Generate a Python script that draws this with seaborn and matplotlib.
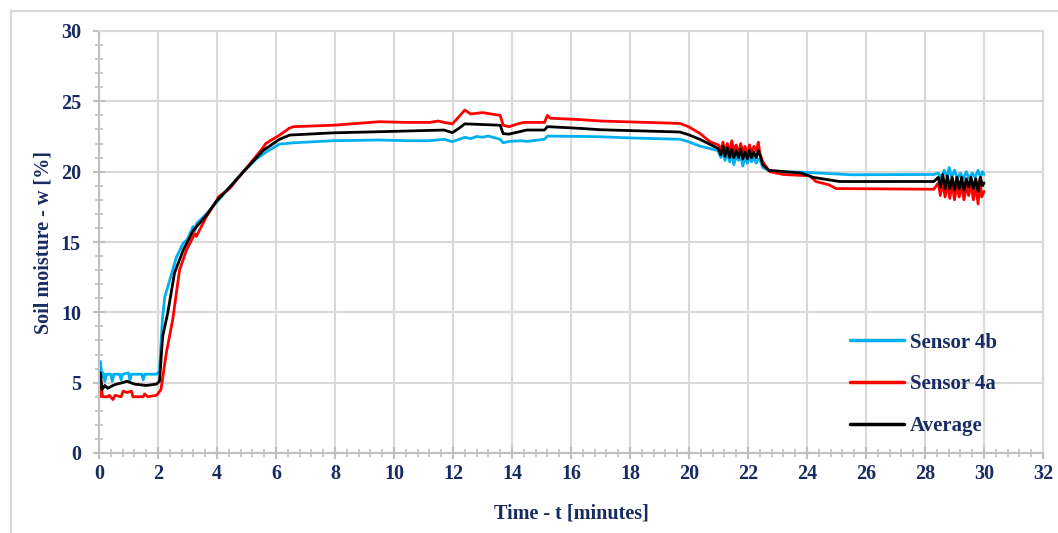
import pandas as pd
import matplotlib.pyplot as plt
import matplotlib.lines as mlines
from matplotlib.ticker import MultipleLocator
import seaborn as sns

# ---- data (time in minutes, moisture in %) ----
t_4b = [0.0, 0.05, 0.1, 0.14, 0.2, 0.25, 0.4, 0.45, 0.5, 0.7, 0.75, 0.8, 1.0, 1.05, 1.1,
        1.45, 1.5, 1.55, 1.95, 2.05, 2.15, 2.23, 2.4, 2.62, 2.85, 3.0, 3.19, 3.25, 3.3,
        3.64, 3.98, 4.43, 4.88, 5.33, 5.67, 6.12, 6.58, 7.93, 9.5, 10.5, 11.2, 11.7, 11.98,
        12.4, 12.6, 12.8, 13.0, 13.2, 13.6, 13.7, 13.9, 14.3, 14.5, 15.1, 15.2, 16.5, 17.0,
        18.0, 19.7, 19.98, 20.37, 20.98,
        21.08, 21.15, 21.22, 21.3, 21.38, 21.45, 21.52, 21.6, 21.68, 21.75, 21.82, 21.9,
        21.98, 22.05, 22.12, 22.2, 22.28, 22.35, 22.42, 22.5, 22.7, 22.9, 23.8, 25.5,
        28.3, 28.45, 28.55, 28.65, 28.75, 28.82, 28.9, 29.0, 29.1, 29.2, 29.3, 29.4, 29.5,
        29.6, 29.7, 29.8, 29.88, 29.95, 30.0]
w_4b = [5.0, 6.5, 5.4, 5.7, 5.1, 5.6, 5.6, 5.1, 5.6, 5.6, 5.2, 5.6, 5.7, 5.2, 5.6,
        5.6, 5.2, 5.6, 5.6, 5.8, 9.5, 11.1, 12.3, 13.9, 14.9, 15.2, 16.1, 15.8, 16.3,
        17.0, 17.8, 18.9, 19.96, 20.9, 21.4, 21.96, 22.05, 22.2, 22.25, 22.2, 22.2, 22.3, 22.13,
        22.44, 22.35, 22.5, 22.45, 22.53, 22.3, 22.05, 22.15, 22.2, 22.15, 22.3, 22.53, 22.5, 22.48,
        22.4, 22.3, 22.13, 21.82, 21.5,
        21.0, 21.5, 20.8, 21.3, 20.7, 21.2, 20.5, 21.1, 20.8, 21.2, 20.4, 21.0,
        20.6, 21.1, 20.7, 21.0, 20.6, 20.9, 20.8, 20.3, 20.1, 20.0, 19.97, 19.78,
        19.8, 19.9, 19.5, 20.1, 19.6, 20.3, 19.6, 20.1, 19.5, 19.9, 19.5, 20.0, 19.5,
        19.9, 19.6, 20.1, 19.6, 20.0, 19.8]

t_4a = [0.0, 0.03, 0.08, 0.12, 0.3, 0.35, 0.47, 0.55, 0.75, 0.82, 0.95, 1.1, 1.15, 1.5,
        1.55, 1.65, 1.95, 2.1, 2.28, 2.5, 2.73, 2.96, 3.25, 3.3, 3.64, 3.98, 4.05, 4.43,
        4.88, 5.56, 5.65, 6.12, 6.46, 6.6, 7.93, 9.5, 10.5, 11.2, 11.5, 11.7, 11.98, 12.2,
        12.4, 12.6, 13.0, 13.6, 13.7, 13.9, 14.2, 14.4, 15.1, 15.2, 15.3, 16.3, 17.0, 19.69,
        19.98, 20.37, 20.71, 21.0,
        21.08, 21.15, 21.22, 21.3, 21.38, 21.45, 21.52, 21.6, 21.68, 21.75, 21.82, 21.9,
        21.98, 22.05, 22.12, 22.2, 22.28, 22.35, 22.4, 22.5, 22.7, 22.74, 23.2, 24.1, 24.3,
        24.75, 24.98, 28.3,
        28.45, 28.52, 28.6, 28.68, 28.76, 28.84, 28.92, 29.0, 29.08, 29.16, 29.24, 29.32,
        29.4, 29.48, 29.56, 29.64, 29.72, 29.8, 29.86, 29.92, 30.0]
w_4a = [4.8, 4.0, 4.7, 4.0, 4.0, 4.1, 3.8, 4.1, 4.0, 4.4, 4.3, 4.4, 4.0, 4.0,
        4.2, 4.0, 4.1, 4.5, 7.1, 9.5, 13.0, 14.4, 15.6, 15.4, 16.8, 17.9, 18.2, 18.8,
        19.96, 21.7, 22.0, 22.6, 23.1, 23.2, 23.3, 23.55, 23.5, 23.5, 23.6, 23.5, 23.4, 23.9,
        24.38, 24.1, 24.2, 24.0, 23.3, 23.2, 23.4, 23.5, 23.5, 24.0, 23.8, 23.7, 23.6, 23.43,
        23.2, 22.72, 22.13, 21.9,
        21.5, 22.1, 21.4, 22.0, 21.3, 22.2, 21.5, 21.9, 21.2, 22.0, 21.4, 21.8,
        21.2, 21.9, 21.3, 21.8, 21.5, 22.1, 21.3, 20.7, 20.1, 20.0, 19.8, 19.7, 19.3,
        19.06, 18.8, 18.75,
        19.2, 18.3, 19.3, 18.2, 19.1, 18.1, 19.2, 18.0, 19.0, 18.2, 19.1, 18.0,
        19.0, 18.3, 19.1, 18.0, 19.0, 17.7, 19.5, 18.2, 18.6]

t_avg = [0.0, 0.05, 0.1, 0.2, 0.3, 0.47, 0.6, 0.8, 0.95, 1.2, 1.6, 1.95, 2.05, 2.16, 2.33,
         2.56, 2.85, 3.19, 3.64, 3.98, 4.43, 4.88, 5.56, 6.12, 6.46, 7.93, 9.5, 11.7, 11.98,
         12.2, 12.4, 13.6, 13.7, 13.9, 14.5, 15.1, 15.2, 16.3, 17.0, 19.69, 19.98, 20.37, 20.98,
         21.08, 21.15, 21.22, 21.3, 21.38, 21.45, 21.52, 21.6, 21.68, 21.75, 21.82, 21.9,
         21.98, 22.05, 22.12, 22.2, 22.28, 22.35, 22.42, 22.5, 22.7, 23.8, 24.2, 25.1, 28.3,
         28.45, 28.52, 28.6, 28.68, 28.76, 28.84, 28.92, 29.0, 29.08, 29.16, 29.24, 29.32,
         29.4, 29.48, 29.56, 29.64, 29.72, 29.8, 29.88, 29.95, 30.0]
w_avg = [5.1, 5.7, 4.5, 4.8, 4.6, 4.8, 4.9, 5.0, 5.1, 4.9, 4.8, 4.9, 5.1, 8.3, 9.95,
         12.8, 14.4, 15.8, 16.9, 17.9, 18.9, 19.96, 21.5, 22.3, 22.6, 22.76, 22.84, 22.96, 22.77,
         23.08, 23.4, 23.3, 22.7, 22.67, 22.96, 22.96, 23.2, 23.08, 22.98, 22.82, 22.63, 22.3, 21.66,
         21.2, 21.8, 21.1, 21.7, 21.0, 21.6, 21.0, 21.5, 21.0, 21.6, 20.9, 21.4,
         20.9, 21.5, 21.0, 21.4, 21.0, 21.5, 21.1, 20.5, 20.1, 19.9, 19.6, 19.3, 19.3,
         19.6, 18.9, 19.8, 18.8, 19.7, 18.8, 19.6, 18.7, 19.6, 18.8, 19.6, 18.7,
         19.5, 18.9, 19.6, 18.8, 19.5, 18.6, 19.6, 19.0, 19.2]

series = ['Sensor 4b', 'Sensor 4a', 'Average']
colors = ['#00B0F0', '#FF0000', '#000000']

df = pd.concat([
    pd.DataFrame({'t': t_4b, 'w': w_4b, 'series': series[0]}),
    pd.DataFrame({'t': t_4a, 'w': w_4a, 'series': series[1]}),
    pd.DataFrame({'t': t_avg, 'w': w_avg, 'series': series[2]}),
])

sns.set_style('white')
plt.rcParams['font.family'] = ['Liberation Serif', 'DejaVu Serif']
plt.rcParams['font.weight'] = 'bold'
navy = '#172B63'
gridc = '#D9D9D9'

fig = plt.figure(figsize=(10.58, 5.33), dpi=100)
ax = fig.add_axes([99 / 1058, 1 - 453 / 533, 944 / 1058, 422 / 533])

sns.lineplot(data=df, x='t', y='w', hue='series', hue_order=series, palette=colors,
             estimator=None, sort=False, linewidth=2.0, ax=ax, legend=False)

ax.set_xlim(0, 32)
ax.set_ylim(0, 30)
ax.xaxis.set_major_locator(MultipleLocator(2))
ax.xaxis.set_minor_locator(MultipleLocator(0.4))
ax.yaxis.set_major_locator(MultipleLocator(5))
ax.yaxis.set_minor_locator(MultipleLocator(1))
ax.grid(True, which='major', color=gridc, linewidth=1.5)
ax.set_axisbelow(True)

for s in ax.spines.values():
    s.set_color(gridc)
    s.set_linewidth(1.5)
ax.spines['left'].set_color('#BFBFBF')
ax.spines['bottom'].set_color('#BFBFBF')

ax.tick_params(which='both', bottom=True, left=True)
ax.tick_params(which='major', direction='inout', length=8, width=1.5, color='#BFBFBF',
               labelsize=14.5, labelcolor=navy)
ax.tick_params(which='minor', direction='inout', length=6, width=1.2, color='#BFBFBF')
ax.tick_params(axis='y', which='major', pad=9)
ax.tick_params(axis='x', which='major', pad=4)
for lab in ax.get_xticklabels() + ax.get_yticklabels():
    lab.set_fontweight('bold')

ax.set_xlabel('Time - t [minutes]', fontsize=14.5, fontweight='bold', color=navy, labelpad=14)
ax.set_ylabel('Soil moisture - w [%]', fontsize=14.5, fontweight='bold', color=navy, labelpad=5)

handles = [mlines.Line2D([], [], color=c, linewidth=2.5) for c in colors]
leg = ax.legend(handles, series, loc='upper left', bbox_to_anchor=(0.785, 0.31),
                frameon=False, borderpad=0, handlelength=2.55, handletextpad=0.3,
                labelspacing=1.05, prop={'size': 15, 'weight': 'bold'})
for txt in leg.get_texts():
    txt.set_color(navy)

# light outer frame (top and left edges visible in the original)
fig.add_artist(mlines.Line2D([11 / 1058, 1], [1 - 11 / 533, 1 - 11 / 533],
                             color=gridc, linewidth=1.5, transform=fig.transFigure))
fig.add_artist(mlines.Line2D([11 / 1058, 11 / 1058], [0, 1 - 11 / 533],
                             color=gridc, linewidth=1.5, transform=fig.transFigure))

plt.savefig('out.png', dpi=100)
